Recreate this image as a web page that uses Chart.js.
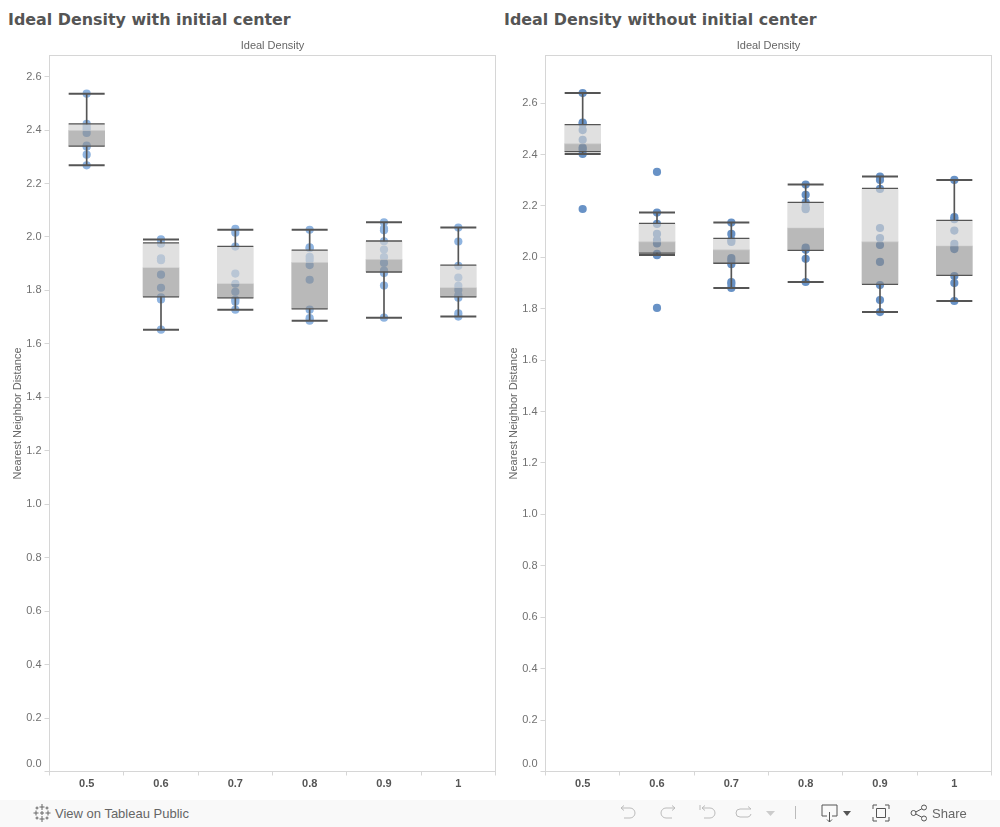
<!DOCTYPE html>
<html>
<head>
<meta charset="utf-8">
<title>Ideal Density</title>
<script src="https://cdn.jsdelivr.net/npm/chart.js@4/dist/chart.umd.min.js"></script>
<style>
  html, body { margin: 0; padding: 0; background: #fff; overflow: hidden; }
  body { width: 1000px; height: 827px; position: relative; }
  canvas { position: absolute; top: 30px; }
  h1 { position: absolute; top: 10px; margin: 0; font: bold 15.9px "DejaVu Sans", sans-serif; color: #555; white-space: nowrap; }
  #bar { position: absolute; left: 0; top: 800px; width: 1000px; height: 27px; background: #f9f9f9; }
  #bar span { position: absolute; top: 6px; font: 13px "Liberation Sans", sans-serif; color: #666; white-space: nowrap; }
  #bar svg { position: absolute; top: 4px; fill: none; stroke-width: 1; }
</style>
</head>
<body>
<h1 style="left:8px">Ideal Density with initial center</h1>
<h1 style="left:504px">Ideal Density without initial center</h1>
<canvas id="leftChart" width="500" height="770" style="left:0"></canvas>
<canvas id="rightChart" width="500" height="770" style="left:496px"></canvas>

<div id="bar">
  <svg style="left:33px" width="18" height="18" viewBox="0 0 18 18" stroke="#666">
    <path d="M9 0v6M6.500 3h5M9 12v6M6.500 15h5M3 6.500v5M.5 9h5M15 6.500v5M12.500 9h5M9 7v4M7 9h4M4 2.500v3M2.500 4h3M14 2.500v3M12.500 4h3M4 12.500v3M2.500 14h3M14 12.500v3M12.500 14h3"/>
  </svg>
  <span style="left:55px">View on Tableau Public</span>
  <svg style="left:619px" width="18" height="18" viewBox="0 0 18 18" stroke="#bbb">
    <path d="M2 4h9a5 5 0 0 1 0 10H5M2 4l3-2.500M2 4l3 2.500"/>
  </svg>
  <svg style="left:659px" width="18" height="18" viewBox="0 0 18 18" stroke="#bbb">
    <path d="M16 4H7a5 5 0 0 0 0 10h6M16 4l-3-2.500M16 4l-3 2.500"/>
  </svg>
  <svg style="left:699px" width="18" height="18" viewBox="0 0 18 18" stroke="#bbb">
    <path d="M1 1v5M3 4h8a5 5 0 0 1 0 10H5M3 4l3-2.500M3 4l3 2.500"/>
  </svg>
  <svg style="left:735px" width="18" height="18" viewBox="0 0 18 18" stroke="#bbb">
    <path d="M16 5H5a4 4 0 0 0 0 8h8a4 4 0 0 0 3-3M16 5l-3-2.500"/>
  </svg>
  <svg style="left:765px" width="12" height="18" viewBox="0 0 12 18"><path d="M1 7h9l-4.500 5z" fill="#ccc"/></svg>
  <svg style="left:790px" width="10" height="18" viewBox="0 0 10 18" stroke="#bbb"><path d="M5.500 2v13"/></svg>
  <svg style="left:821px" width="18" height="20" viewBox="0 0 18 20" stroke="#555">
    <path d="M6 12H1V1h15v11h-5M8.500 8v10M6 15.500l2.500 2.500 2.500-2.500"/>
  </svg>
  <svg style="left:842px" width="10" height="18" viewBox="0 0 10 18"><path d="M1 7h8l-4 5z" fill="#555"/></svg>
  <svg style="left:872px" width="18" height="18" viewBox="0 0 18 18" stroke="#555">
    <path d="M1 5V1h4M13 1h4v4M17 13v4h-4M5 17H1v-4M4.500 4.500h9v9h-9z"/>
  </svg>
  <svg style="left:910px" width="18" height="18" viewBox="0 0 18 18" stroke="#555">
    <circle cx="3.500" cy="9" r="2.500"/><circle cx="14" cy="3.500" r="2.500"/><circle cx="14" cy="14.500" r="2.500"/>
    <path d="M5.800 8l6-3.200M5.800 10l6 3.200"/>
  </svg>
  <span style="left:932px">Share</span>
</div>

<script>
const categories = ["0.5", "0.6", "0.7", "0.8", "0.9", "1"];
const yTicksStep = 0.2;

// with initial center
const leftHi  = [2.536, 1.991, 2.027, 2.027, 2.055, 2.035];
const leftQ3  = [2.423, 1.978, 1.965, 1.951, 1.985, 1.895];
const leftMed = [2.398, 1.885, 1.825, 1.904, 1.915, 1.810];
const leftQ1  = [2.340, 1.776, 1.772, 1.731, 1.869, 1.776];
const leftLo  = [2.268, 1.653, 1.728, 1.687, 1.698, 1.702];
const leftDots = [
  [2.536, 2.423, 2.412, 2.403, 2.389, 2.342, 2.338, 2.308, 2.268],
  [1.991, 1.975, 1.920, 1.913, 1.859, 1.810, 1.774, 1.766, 1.653],
  [2.030, 2.016, 1.964, 1.863, 1.825, 1.795, 1.766, 1.758, 1.728],
  [2.027, 1.961, 1.958, 1.926, 1.914, 1.895, 1.840, 1.728, 1.696, 1.687],
  [2.055, 2.031, 2.025, 1.984, 1.953, 1.925, 1.903, 1.874, 1.865, 1.818, 1.698],
  [2.035, 1.983, 1.892, 1.848, 1.817, 1.802, 1.782, 1.773, 1.714, 1.702]
];

// without initial center
const rightHi  = [2.639, 2.174, 2.135, 2.283, 2.314, 2.301];
const rightQ3  = [2.516, 2.132, 2.074, 2.214, 2.268, 2.144];
const rightMed = [2.441, 2.060, 2.029, 2.114, 2.060, 2.044];
const rightQ1  = [2.411, 2.016, 1.977, 2.027, 1.895, 1.930];
const rightLo  = [2.402, 2.009, 1.881, 1.904, 1.787, 1.830];
const rightDots = [
  [2.639, 2.524, 2.519, 2.495, 2.457, 2.427, 2.419, 2.402, 2.188],
  [2.332, 2.174, 2.130, 2.091, 2.067, 2.054, 2.013, 2.008, 1.803],
  [2.135, 2.091, 2.067, 2.060, 1.997, 1.987, 1.973, 1.904, 1.896, 1.881],
  [2.283, 2.243, 2.214, 2.195, 2.187, 2.038, 2.029, 1.994, 1.904],
  [2.314, 2.301, 2.266, 2.114, 2.075, 2.048, 1.982, 1.892, 1.834, 1.787],
  [2.301, 2.156, 2.148, 2.104, 2.052, 2.039, 2.032, 1.927, 1.900, 1.830]
];

const inkColor = "#555";
const frameColor = "#d6d6d6";

// top and right edges of the plot have no axis, so stroke the whole frame here
const framePlugin = {
  id: "frame",
  beforeDatasetsDraw(chart) {
    const { ctx, chartArea: a } = chart;
    ctx.save();
    ctx.strokeStyle = frameColor;
    ctx.lineWidth = 1;
    ctx.strokeRect(a.left, a.top, a.right - a.left, a.bottom - a.top);
    ctx.restore();
  }
};

function capDataset(values, width, order) {
  return {
    type: "line",
    showLine: false,
    data: values.map((v, i) => ({ x: categories[i], y: v })),
    pointStyle: "line",
    pointRadius: 18,
    pointBorderWidth: width,
    pointBorderColor: inkColor,
    clip: false,
    order
  };
}

function barDataset(lows, highs, color, thickness, order) {
  return {
    type: "bar",
    data: lows.map((v, i) => [v, highs[i]]),
    backgroundColor: color,
    barThickness: thickness,
    grouped: false,
    order
  };
}

function makeChart(id, hi, q3, med, q1, lo, dots, yMax, dotColor) {
  const dotPoints = [];
  dots.forEach((list, i) => list.forEach(v => dotPoints.push({ x: categories[i], y: v })));

  new Chart(document.getElementById(id), {
    data: {
      labels: categories,
      datasets: [
        {
          type: "line",
          showLine: false,
          data: dotPoints,
          pointStyle: "circle",
          pointRadius: 4.1,
          pointBorderWidth: 0,
          pointBackgroundColor: dotColor,
          order: 5
        },
        barDataset(med, q3, "rgba(208,208,208,0.65)", 36, 4),
        barDataset(q1, med, "rgba(138,138,138,0.6)", 36, 4),
        barDataset(q3, hi, inkColor, 1, 3),
        barDataset(lo, q1, inkColor, 1, 3),
        capDataset(q3, 1.3, 2),
        capDataset(q1, 1.3, 2),
        capDataset(hi, 2, 1),
        capDataset(lo, 2, 1)
      ]
    },
    options: {
      responsive: false,
      animation: false,
      layout: { autoPadding: false, padding: { right: 4.5 } },
      plugins: { legend: { display: false }, tooltip: { enabled: false } },
      scales: {
        x: {
          type: "category",
          position: "bottom",
          offset: true,
          afterFit: s => { s.height = 28.5; },
          border: { display: false },
          grid: { drawOnChartArea: false, color: frameColor, tickLength: 4, offset: true },
          ticks: {
            padding: 2,
            maxRotation: 0,
            color: inkColor,
            font: { family: "'Liberation Sans', sans-serif", size: 11, weight: "bold" }
          }
        },
        xTop: {
          type: "category",
          position: "top",
          afterFit: s => { s.height = 25.5; },
          border: { display: false },
          grid: { display: false },
          ticks: { display: false },
          title: {
            display: true,
            text: "Ideal Density",
            color: "#666",
            padding: { top: 9, bottom: 0 },
            font: { family: "'Liberation Sans', sans-serif", size: 11 }
          }
        },
        y: {
          min: 0,
          max: yMax,
          afterFit: s => { s.width = 49.5; },
          border: { display: false },
          grid: { drawOnChartArea: false, color: frameColor, tickLength: 5 },
          ticks: {
            stepSize: yTicksStep,
            includeBounds: false,
            padding: 3,
            color: "#707070",
            font: { family: "'Liberation Sans', sans-serif", size: 11, lineHeight: 1.3 },
            // the zero label sits above its tick so it stays clear of the x axis
            callback: v => (v === 0 ? ["0.0", ""] : v.toFixed(1))
          },
          title: {
            display: true,
            text: "Nearest Neighbor Distance",
            color: "#666",
            padding: { top: 11, bottom: 0 },
            font: { family: "'Liberation Sans', sans-serif", size: 11 }
          }
        }
      }
    },
    plugins: [framePlugin]
  });
}

makeChart("leftChart", leftHi, leftQ3, leftMed, leftQ1, leftLo, leftDots, 2.679, "rgba(143,180,224,1)");
makeChart("rightChart", rightHi, rightQ3, rightMed, rightQ1, rightLo, rightDots, 2.785, "rgba(104,146,198,1)");
</script>
</body>
</html>
